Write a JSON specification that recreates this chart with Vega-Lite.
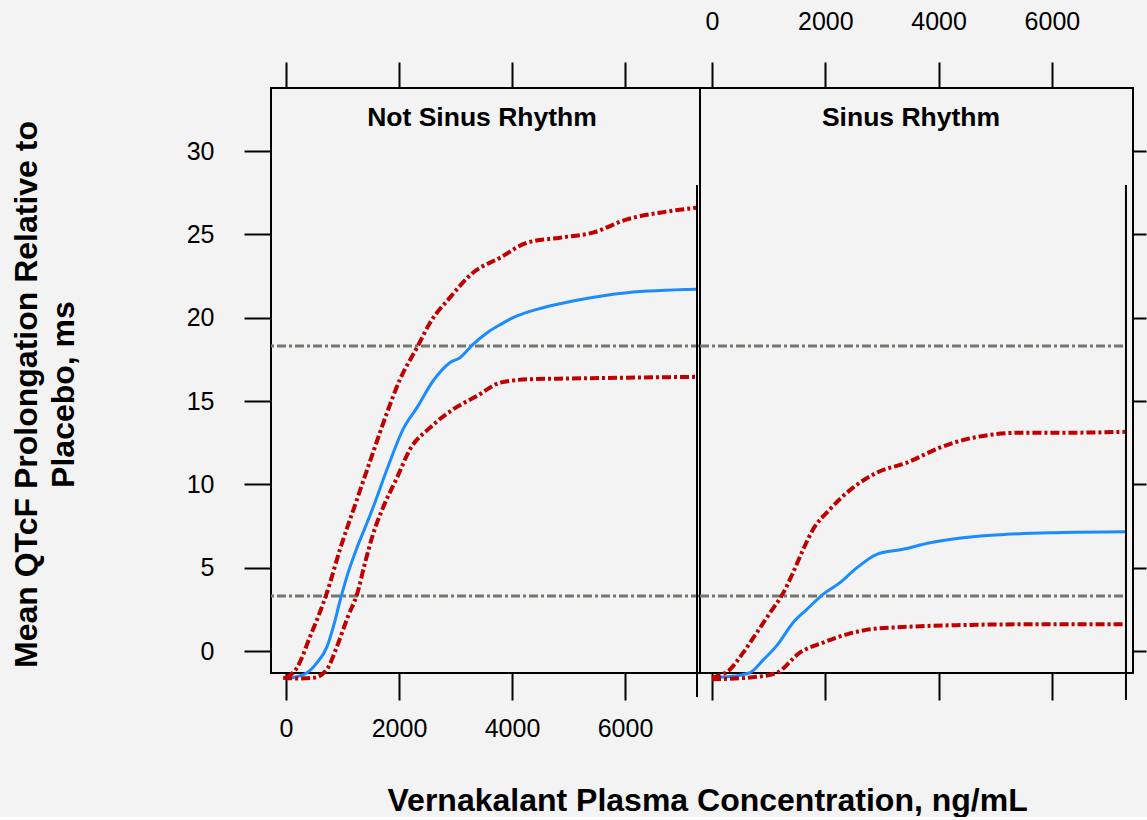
{
  "$schema": "https://vega.github.io/schema/vega-lite/v6.json",
  "background": "#f3f3f3",
  "padding": {"left": 9, "top": 8, "right": 0, "bottom": 0},
  "config": {
    "font": "Liberation Sans",
    "view": {"stroke": "black", "strokeWidth": 2},
    "axis": {"labelColor": "black", "tickColor": "black", "titleColor": "black", "grid": false, "domain": false, "tickWidth": 2, "labelFlush": false, "labelOverlap": false, "format": "d"}
  },
  "title": {"text": "Vernakalant Plasma Concentration, ng/mL", "orient": "bottom", "anchor": "middle", "dx": 129, "fontSize": 32, "fontWeight": "bold", "color": "black", "offset": 44},
  "datasets": {
    "nsr": [
      {"series": "mean", "conc": 100, "y": -1.6}, {"series": "mean", "conc": 372, "y": -1.3}, {"series": "mean", "conc": 550, "y": -0.7}, {"series": "mean", "conc": 725, "y": 0.25}, {"series": "mean", "conc": 850, "y": 1.6}, {"series": "mean", "conc": 956, "y": 3.0}, {"series": "mean", "conc": 1100, "y": 4.7}, {"series": "mean", "conc": 1257, "y": 6.2}, {"series": "mean", "conc": 1400, "y": 7.4}, {"series": "mean", "conc": 1540, "y": 8.6}, {"series": "mean", "conc": 1788, "y": 10.9}, {"series": "mean", "conc": 2071, "y": 13.3}, {"series": "mean", "conc": 2318, "y": 14.6}, {"series": "mean", "conc": 2602, "y": 16.2}, {"series": "mean", "conc": 2900, "y": 17.3}, {"series": "mean", "conc": 3080, "y": 17.6}, {"series": "mean", "conc": 3310, "y": 18.4}, {"series": "mean", "conc": 3560, "y": 19.1}, {"series": "mean", "conc": 3800, "y": 19.6}, {"series": "mean", "conc": 4020, "y": 20.0}, {"series": "mean", "conc": 4440, "y": 20.5}, {"series": "mean", "conc": 5080, "y": 21.0}, {"series": "mean", "conc": 6035, "y": 21.5}, {"series": "mean", "conc": 7270, "y": 21.7},
      {"series": "upper", "conc": 0, "y": -1.6}, {"series": "upper", "conc": 195, "y": -1.0}, {"series": "upper", "conc": 425, "y": 0.85}, {"series": "upper", "conc": 725, "y": 3.5}, {"series": "upper", "conc": 956, "y": 6.1}, {"series": "upper", "conc": 1257, "y": 9.1}, {"series": "upper", "conc": 1540, "y": 11.9}, {"series": "upper", "conc": 1788, "y": 14.3}, {"series": "upper", "conc": 2018, "y": 16.3}, {"series": "upper", "conc": 2318, "y": 18.2}, {"series": "upper", "conc": 2550, "y": 19.7}, {"series": "upper", "conc": 2900, "y": 21.2}, {"series": "upper", "conc": 3310, "y": 22.7}, {"series": "upper", "conc": 3790, "y": 23.6}, {"series": "upper", "conc": 4270, "y": 24.5}, {"series": "upper", "conc": 4850, "y": 24.8}, {"series": "upper", "conc": 5430, "y": 25.1}, {"series": "upper", "conc": 6035, "y": 25.9}, {"series": "upper", "conc": 6620, "y": 26.3}, {"series": "upper", "conc": 7270, "y": 26.6},
      {"series": "lower", "conc": -50, "y": -1.6}, {"series": "lower", "conc": 200, "y": -1.65}, {"series": "lower", "conc": 500, "y": -1.6}, {"series": "lower", "conc": 725, "y": -1.1}, {"series": "lower", "conc": 900, "y": 0.25}, {"series": "lower", "conc": 1100, "y": 2.1}, {"series": "lower", "conc": 1257, "y": 3.4}, {"series": "lower", "conc": 1400, "y": 5.3}, {"series": "lower", "conc": 1540, "y": 7.0}, {"series": "lower", "conc": 1717, "y": 8.6}, {"series": "lower", "conc": 1965, "y": 10.4}, {"series": "lower", "conc": 2195, "y": 12.1}, {"series": "lower", "conc": 2550, "y": 13.4}, {"series": "lower", "conc": 2956, "y": 14.5}, {"series": "lower", "conc": 3380, "y": 15.3}, {"series": "lower", "conc": 3790, "y": 16.1}, {"series": "lower", "conc": 4270, "y": 16.3}, {"series": "lower", "conc": 5000, "y": 16.35}, {"series": "lower", "conc": 6000, "y": 16.4}, {"series": "lower", "conc": 7270, "y": 16.45}
    ],
    "sr": [
      {"series": "mean", "conc": 0, "y": -1.6}, {"series": "mean", "conc": 400, "y": -1.5}, {"series": "mean", "conc": 670, "y": -1.3}, {"series": "mean", "conc": 900, "y": -0.55}, {"series": "mean", "conc": 1150, "y": 0.35}, {"series": "mean", "conc": 1430, "y": 1.7}, {"series": "mean", "conc": 1675, "y": 2.5}, {"series": "mean", "conc": 1960, "y": 3.4}, {"series": "mean", "conc": 2260, "y": 4.1}, {"series": "mean", "conc": 2560, "y": 5.0}, {"series": "mean", "conc": 2910, "y": 5.8}, {"series": "mean", "conc": 3370, "y": 6.1}, {"series": "mean", "conc": 3850, "y": 6.5}, {"series": "mean", "conc": 4430, "y": 6.8}, {"series": "mean", "conc": 5200, "y": 7.0}, {"series": "mean", "conc": 6080, "y": 7.1}, {"series": "mean", "conc": 7290, "y": 7.15},
      {"series": "upper", "conc": 0, "y": -1.6}, {"series": "upper", "conc": 320, "y": -1.1}, {"series": "upper", "conc": 550, "y": -0.1}, {"series": "upper", "conc": 790, "y": 1.1}, {"series": "upper", "conc": 1025, "y": 2.3}, {"series": "upper", "conc": 1260, "y": 3.5}, {"series": "upper", "conc": 1430, "y": 4.7}, {"series": "upper", "conc": 1610, "y": 6.1}, {"series": "upper", "conc": 1785, "y": 7.3}, {"series": "upper", "conc": 2080, "y": 8.5}, {"series": "upper", "conc": 2490, "y": 9.8}, {"series": "upper", "conc": 2910, "y": 10.7}, {"series": "upper", "conc": 3440, "y": 11.3}, {"series": "upper", "conc": 4020, "y": 12.2}, {"series": "upper", "conc": 4610, "y": 12.8}, {"series": "upper", "conc": 5490, "y": 13.1}, {"series": "upper", "conc": 6370, "y": 13.1}, {"series": "upper", "conc": 7290, "y": 13.15},
      {"series": "lower", "conc": 0, "y": -1.7}, {"series": "lower", "conc": 790, "y": -1.55}, {"series": "lower", "conc": 1150, "y": -1.3}, {"series": "lower", "conc": 1550, "y": -0.1}, {"series": "lower", "conc": 1960, "y": 0.5}, {"series": "lower", "conc": 2380, "y": 1.0}, {"series": "lower", "conc": 2790, "y": 1.3}, {"series": "lower", "conc": 3440, "y": 1.45}, {"series": "lower", "conc": 4320, "y": 1.55}, {"series": "lower", "conc": 5490, "y": 1.6}, {"series": "lower", "conc": 7290, "y": 1.6}
    ]
  },
  "spacing": 0,
  "bounds": "flush",
  "resolve": {"scale": {"x": "independent", "y": "independent"}, "axis": {"x": "independent", "y": "independent"}},
  "hconcat": [
    {
      "width": 429,
      "height": 585,
      "data": {"name": "nsr"},
      "resolve": {"axis": {"x": "independent", "y": "independent"}},
      "layer": [
        {
          "data": {"values": [{}]},
          "mark": {"type": "rule", "color": "#76766e", "strokeWidth": 3, "strokeDash": [9, 3, 3, 3]},
          "encoding": {"y": {"datum": 18.3, "type": "quantitative", "scale": {"domain": [-1.32, 33.78], "nice": false, "zero": false}, "axis": null}}
        },
        {
          "data": {"values": [{}]},
          "mark": {"type": "rule", "color": "#76766e", "strokeWidth": 3, "strokeDash": [9, 3, 3, 3]},
          "encoding": {"y": {"datum": 3.3, "type": "quantitative", "scale": {"domain": [-1.32, 33.78], "nice": false, "zero": false}, "axis": null}}
        },
        {
          "transform": [{"filter": "datum.series === 'mean'"}],
          "mark": {"type": "line", "color": "#1a8cff", "strokeWidth": 3, "interpolate": "monotone"},
          "encoding": {
            "x": {"field": "conc", "type": "quantitative", "scale": {"domain": [-265, 7327], "nice": false, "zero": false},
                  "axis": {"orient": "bottom", "values": [0, 2000, 4000, 6000], "tickSize": 27, "labelFontSize": 25, "labelPadding": 16, "title": null}},
            "y": {"field": "y", "type": "quantitative", "scale": {"domain": [-1.32, 33.78], "nice": false, "zero": false},
                  "axis": {"orient": "left", "values": [0, 5, 10, 15, 20, 25, 30], "tickSize": 27, "labelFontSize": 25, "labelPadding": 30,
                           "title": ["Mean QTcF Prolongation Relative to", "Placebo, ms"], "titleFontSize": 32, "titleFontWeight": "bold", "titleLineHeight": 37, "titlePadding": 106, "titleY": 306}}
          }
        },
        {
          "transform": [{"filter": "datum.series !== 'mean'"}],
          "mark": {"type": "line", "color": "#c00000", "strokeWidth": 4, "strokeDash": [9, 3, 3, 3], "interpolate": "monotone"},
          "encoding": {
            "x": {"field": "conc", "type": "quantitative", "scale": {"domain": [-265, 7327], "nice": false, "zero": false},
                  "axis": {"orient": "top", "values": [0, 2000, 4000, 6000], "tickSize": 26, "labels": false, "title": null}},
            "y": {"field": "y", "type": "quantitative", "scale": {"domain": [-1.32, 33.78], "nice": false, "zero": false}, "axis": null},
            "detail": {"field": "series"}
          }
        },
        {
          "data": {"values": [{}]},
          "mark": {"type": "text", "text": "Not Sinus Rhythm", "fontSize": 26.5, "fontWeight": "bold", "color": "black", "align": "center", "baseline": "middle"},
          "encoding": {
            "x": {"datum": 3469, "type": "quantitative", "scale": {"domain": [-265, 7327], "nice": false, "zero": false}, "axis": null},
            "y": {"datum": 32.0, "type": "quantitative", "scale": {"domain": [-1.32, 33.78], "nice": false, "zero": false}, "axis": null}
          }
        },
        {
          "data": {"values": [{}]},
          "mark": {"type": "rule", "color": "black", "strokeWidth": 2},
          "encoding": {
            "x": {"datum": 7274, "type": "quantitative", "scale": {"domain": [-265, 7327], "nice": false, "zero": false}, "axis": null},
            "y": {"datum": 27.96, "type": "quantitative", "scale": {"domain": [-1.32, 33.78], "nice": false, "zero": false}, "axis": null},
            "y2": {"datum": -2.76}
          }
        }
      ]
    },
    {
      "width": 433,
      "height": 585,
      "data": {"name": "sr"},
      "resolve": {"axis": {"x": "independent", "y": "independent"}},
      "layer": [
        {
          "data": {"values": [{}]},
          "mark": {"type": "rule", "color": "#76766e", "strokeWidth": 3, "strokeDash": [9, 3, 3, 3]},
          "encoding": {
            "x": {"datum": -212, "type": "quantitative", "scale": {"domain": [-212, 7432], "nice": false, "zero": false}, "axis": null},
            "x2": {"datum": 7300},
            "y": {"datum": 18.3, "type": "quantitative", "scale": {"domain": [-1.32, 33.78], "nice": false, "zero": false}, "axis": null}
          }
        },
        {
          "data": {"values": [{}]},
          "mark": {"type": "rule", "color": "#76766e", "strokeWidth": 3, "strokeDash": [9, 3, 3, 3]},
          "encoding": {
            "x": {"datum": -212, "type": "quantitative", "scale": {"domain": [-212, 7432], "nice": false, "zero": false}, "axis": null},
            "x2": {"datum": 7300},
            "y": {"datum": 3.3, "type": "quantitative", "scale": {"domain": [-1.32, 33.78], "nice": false, "zero": false}, "axis": null}
          }
        },
        {
          "transform": [{"filter": "datum.series === 'mean'"}],
          "mark": {"type": "line", "color": "#1a8cff", "strokeWidth": 3, "interpolate": "monotone"},
          "encoding": {
            "x": {"field": "conc", "type": "quantitative", "scale": {"domain": [-212, 7432], "nice": false, "zero": false},
                  "axis": {"orient": "top", "values": [0, 2000, 4000, 6000], "tickSize": 26, "labelFontSize": 25, "labelPadding": 28, "title": null}},
            "y": {"field": "y", "type": "quantitative", "scale": {"domain": [-1.32, 33.78], "nice": false, "zero": false},
                  "axis": {"orient": "right", "values": [0, 5, 10, 15, 20, 25, 30], "tickSize": 13, "labels": false, "title": null}}
          }
        },
        {
          "transform": [{"filter": "datum.series !== 'mean'"}],
          "mark": {"type": "line", "color": "#c00000", "strokeWidth": 4, "strokeDash": [9, 3, 3, 3], "interpolate": "monotone"},
          "encoding": {
            "x": {"field": "conc", "type": "quantitative", "scale": {"domain": [-212, 7432], "nice": false, "zero": false},
                  "axis": {"orient": "bottom", "values": [0, 2000, 4000, 6000], "tickSize": 27, "labels": false, "title": null}},
            "y": {"field": "y", "type": "quantitative", "scale": {"domain": [-1.32, 33.78], "nice": false, "zero": false}, "axis": null},
            "detail": {"field": "series"}
          }
        },
        {
          "data": {"values": [{}]},
          "mark": {"type": "text", "text": "Sinus Rhythm", "fontSize": 26.5, "fontWeight": "bold", "color": "black", "align": "center", "baseline": "middle"},
          "encoding": {
            "x": {"datum": 3513, "type": "quantitative", "scale": {"domain": [-212, 7432], "nice": false, "zero": false}, "axis": null},
            "y": {"datum": 32.0, "type": "quantitative", "scale": {"domain": [-1.32, 33.78], "nice": false, "zero": false}, "axis": null}
          }
        },
        {
          "data": {"values": [{}]},
          "mark": {"type": "rule", "color": "black", "strokeWidth": 2},
          "encoding": {
            "x": {"datum": 7308, "type": "quantitative", "scale": {"domain": [-212, 7432], "nice": false, "zero": false}, "axis": null},
            "y": {"datum": 27.96, "type": "quantitative", "scale": {"domain": [-1.32, 33.78], "nice": false, "zero": false}, "axis": null},
            "y2": {"datum": -2.94}
          }
        }
      ]
    }
  ]
}
